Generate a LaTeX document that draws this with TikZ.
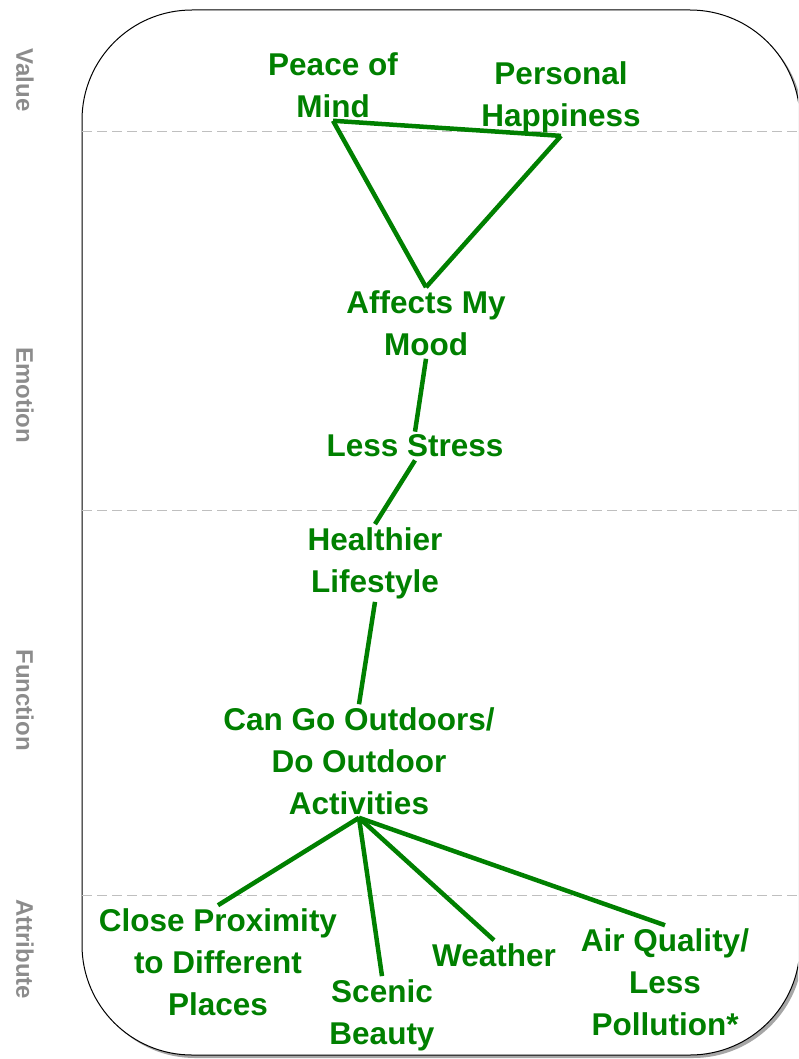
\documentclass[tikz,border=0pt]{standalone}
\usepackage{fontspec}
\setmainfont{Liberation Sans}
\usepackage{xcolor}
\usetikzlibrary{shadows}

\definecolor{laddergreen}{RGB}{0,128,0}

\begin{document}
\begin{tikzpicture}[
					x=1pt, y=-1pt,
					concept/.style={
						text=laddergreen, align=center, inner sep=3pt,
						font=\fontsize{31.5}{42}\selectfont\bfseries
					},
					level/.style={
						text=black!45, rotate=-90, inner sep=0pt,
						font=\fontsize{24}{28}\selectfont\bfseries
					},
					frame/.style={
						draw=black, fill=white, line width=1pt, rounded corners=110pt,
						drop shadow={shadow xshift=3pt, shadow yshift=-3pt, fill=black!35, opacity=1}
					},
					divider/.style={draw=black!25, line width=1pt, dash pattern=on 10pt off 5pt},
					link/.style={draw=laddergreen, line width=4.5pt}
					]
					\useasboundingbox (0,0) rectangle (798,1059);
					\clip (0,0) rectangle (798,1059);
					
					%% ─── FRAME AND LEVELS ───────────────────────────────────
					\path[frame] (82,10) rectangle (800,1055);
					\draw[divider] (82,132) -- (800,132);
					\draw[divider] (82,510) -- (800,510);
					\draw[divider] (82,895) -- (800,895);
					
					\node[level] (lvalue)     at (25,80)  {Value};
					\node[level] (lemotion)   at (25,395) {Emotion};
					\node[level] (lfunction)  at (25,700) {Function};
					\node[level] (lattribute) at (25,949) {Attribute};
					
					%% ─── LADDER CONCEPTS ────────────────────────────────────
					\node[concept] (peace)     at (333,85)   {Peace of\\Mind};
					\node[concept] (happy)     at (561,97)   {Personal\\Happiness};
					\node[concept] (mood)      at (426,323)  {Affects My\\Mood};
					\node[concept] (stress)    at (415,446)  {Less Stress};
					\node[concept] (healthy)   at (375,563)  {Healthier\\Lifestyle};
					\node[concept] (outdoors)  at (359,761)  {Can Go Outdoors/\\Do Outdoor\\Activities};
					\node[concept] (proximity) at (218,962)  {Close Proximity\\to Different\\Places};
					\node[concept] (scenic)    at (382,1015) {Scenic\\Beauty};
					\node[concept] (weather)   at (494,955)  {Weather};
					\node[concept] (air)       at (665,982)  {Air Quality/\\Less\\Pollution*};
					
					\draw[link] (peace.south) -- (happy.south);
					\draw[link] (peace.south) -- (mood.north);
					\draw[link] (happy.south) -- (mood.north);
					\draw[link] (mood.south) -- (stress.north);
					\draw[link] (stress.south) -- (healthy.north);
					\draw[link] (healthy.south) -- (outdoors.north);
					\draw[link] (outdoors.south) -- (proximity.north);
					\draw[link] (outdoors.south) -- (scenic.north);
					\draw[link] (outdoors.south) -- (weather.north);
					\draw[link] (outdoors.south) -- (air.north);
				\end{tikzpicture}
\end{document}
